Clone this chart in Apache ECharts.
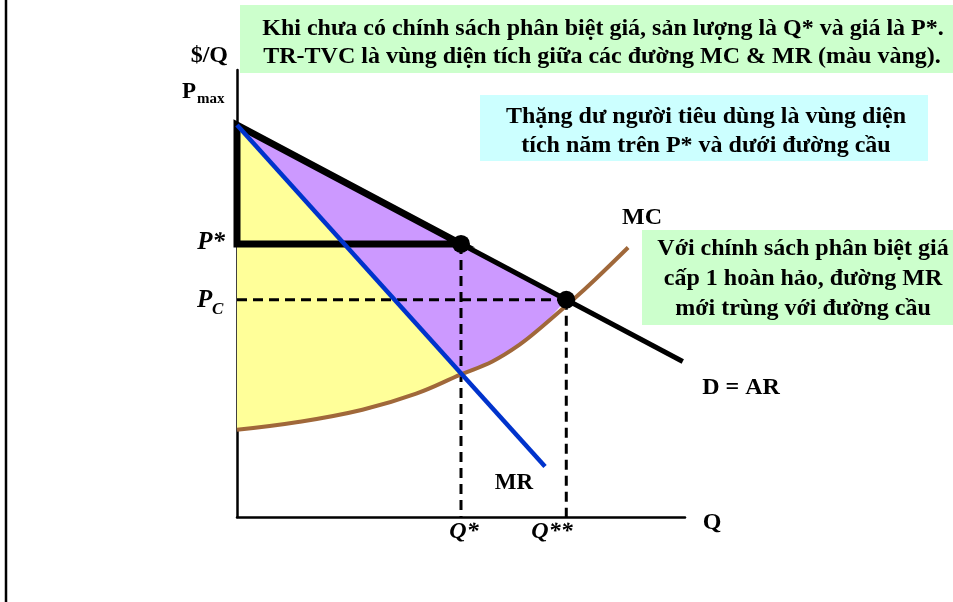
<!DOCTYPE html>
<html><head><meta charset="utf-8">
<script src="https://cdn.jsdelivr.net/npm/echarts@6/dist/echarts.min.js"></script>
<style>html,body{margin:0;padding:0;background:#fff}#c{width:953px;height:602px}</style>
</head><body><div id="c"></div>
<script>
// ---- data (axis units 0..100) ----
const demand = [[0, 87.7], [99.5, 34.8]];
const mr = [[0, 87.7], [68.75, 11.3]];
const mc = [[0, 19.5], [14, 21.3], [28, 24], [40, 27.6], [50, 31.9], [57, 34.8], [63, 38.5], [68, 42.5], [75, 48.6], [80, 53.2], [87.3, 60.3]];
const qStar = 50, pStar = 61.1;
const qStar2 = 73.5, pC = 48.6;
const xTickLabels = ['Q*', 'Q**'];
const yTickLabels = ['P*', 'P'];

// regions built from the curves above
const purpleRegion = [demand[0], [qStar2, pC], mc[7], mc[6], mc[5], mc[4], mr[0]];
const yellowRegion = [mr[0], mc[4], mc[3], mc[2], mc[1], mc[0]];
const csTriangle = [demand[0], [0, pStar], [qStar, pStar]];

const FONT = '"Liberation Serif","Times New Roman",serif';
const chart = echarts.init(document.getElementById('c'));

function polySeries(points, fill, stroke, lw, z) {
  return {
    type: 'custom', coordinateSystem: 'cartesian2d', z: z, silent: true,
    data: [points[0]],
    renderItem: function (params, api) {
      return {
        type: 'polygon',
        shape: { points: points.map(p => api.coord(p)) },
        style: { fill: fill, stroke: stroke, lineWidth: lw, lineJoin: 'miter' }
      };
    }
  };
}
function lineSeries(data, color, width, z, dash, smooth) {
  return {
    type: 'line', data: data, showSymbol: false, silent: true, z: z,
    smooth: smooth || false,
    lineStyle: { color: color, width: width, type: dash || 'solid', cap: 'butt' }
  };
}
const dash = [10, 6];

function txt(text, x, y, size, opts) {
  opts = opts || {};
  return {
    type: 'text', z: 100, silent: true,
    style: {
      text: text, x: x, y: y,
      font: (opts.italic ? 'italic ' : '') + 'bold ' + size + 'px ' + FONT,
      fill: '#000', align: opts.align || 'center', verticalAlign: 'middle'
    }
  };
}

chart.setOption({
  animation: false,
  backgroundColor: '#fff',
  grid: { left: 237, right: 268, top: 70, bottom: 85 },
  xAxis: {
    type: 'value', min: 0, max: 100,
    axisLine: { show: true, lineStyle: { color: '#000', width: 2.5 } },
    axisTick: { show: false }, axisLabel: { show: false }, splitLine: { show: false }
  },
  yAxis: {
    type: 'value', min: 0, max: 100,
    axisLine: { show: true, lineStyle: { color: '#000', width: 2.5 } },
    axisTick: { show: false }, axisLabel: { show: false }, splitLine: { show: false }
  },
  series: [
    polySeries(yellowRegion, '#FFFF99', null, 0, 1),
    polySeries(purpleRegion, '#CC99FF', null, 0, 1),
    lineSeries([[qStar, pStar], [qStar, 0]], '#000', 3, 3, dash),
    lineSeries([[qStar2, pC], [qStar2, 0]], '#000', 3, 3, dash),
    lineSeries([[0, pC], [qStar2, pC]], '#000', 3, 3, dash),
    lineSeries(mc, '#A0683A', 4, 4, null, 0.4),
    lineSeries(demand, '#000', 5, 5),
    polySeries(csTriangle, 'none', '#000', 7, 6),
    lineSeries(mr, '#0033CC', 4.5, 7),
    {
      type: 'scatter', data: [[qStar, pStar], [qStar2, pC]], symbolSize: 18, z: 8, silent: true,
      itemStyle: { color: '#000', opacity: 1 }
    }
  ],
  graphic: [
    { type: 'line', silent: true, shape: { x1: 6, y1: 0, x2: 6, y2: 602 }, style: { stroke: '#000', lineWidth: 2.5 } },
    { type: 'rect', silent: true, z: 50, shape: { x: 240, y: 5, width: 713, height: 68 }, style: { fill: '#CCFFCC' } },
    txt('Khi chưa có chính sách phân biệt giá, sản lượng là Q* và giá là P*.', 603, 29, 24),
    txt('TR-TVC là vùng diện tích giữa các đường MC & MR (màu vàng).', 602, 57, 24),
    { type: 'rect', silent: true, z: 50, shape: { x: 480, y: 95, width: 448, height: 66 }, style: { fill: '#CCFFFF' } },
    txt('Thặng dư người tiêu dùng là vùng diện', 706, 117, 24),
    txt('tích năm trên P* và dưới đường cầu', 706, 146, 24),
    { type: 'rect', silent: true, z: 50, shape: { x: 642, y: 230, width: 311, height: 95 }, style: { fill: '#CCFFCC' } },
    txt('Với chính sách phân biệt giá', 803, 249, 24),
    txt('cấp 1 hoàn hảo, đường MR', 803, 279, 24),
    txt('mới trùng với đường cầu', 803, 309, 24),
    txt('$/Q', 228, 56, 24, { align: 'right' }),
    txt('P', 182, 92, 23, { align: 'left' }),
    txt('max', 197, 99, 15, { align: 'left' }),
    txt(yTickLabels[0], 225, 243, 25, { align: 'right', italic: true }),
    txt(yTickLabels[1], 197, 301, 25, { align: 'left', italic: true }),
    txt('C', 212, 310, 17, { align: 'left', italic: true }),
    txt(xTickLabels[0], 464, 532, 24, { italic: true }),
    txt(xTickLabels[1], 552, 532, 24, { italic: true }),
    txt('Q', 712, 523, 24),
    txt('MR', 514, 483, 23),
    txt('MC', 642, 218, 24),
    txt('D = AR', 741, 388, 24)
  ]
});
</script>
</body></html>
